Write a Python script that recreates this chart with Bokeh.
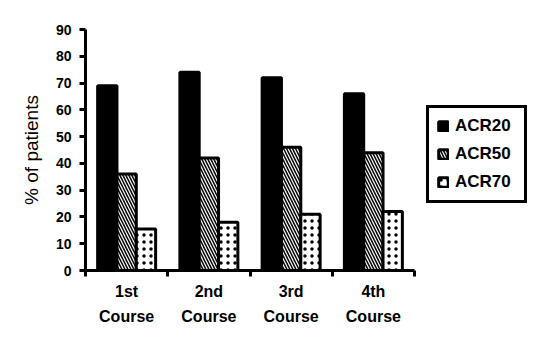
from bokeh.plotting import figure
from bokeh.models import Range1d, FixedTicker, Legend, LegendItem, ColumnDataSource
from bokeh.embed import file_html
from bokeh.resources import INLINE

categories = ["1st\nCourse", "2nd\nCourse", "3rd\nCourse", "4th\nCourse"]
series_names = ["ACR20", "ACR50", "ACR70"]
acr20 = [69, 74, 72, 66]
acr50 = [36, 42, 46, 44]
acr70 = [15.5, 18, 21, 22]
y_ticks = [0, 10, 20, 30, 40, 50, 60, 70, 80, 90]

FONT = "Liberation Sans"
bar_w = 0.235
n = len(categories)

W, H = 544, 350
FL, FT, FH = 85, 29, 241
AXIS_W = 329                 # pixel length of the category axis
FW = W - FL - 4              # frame extends right to hold the legend
x_end = n * FW / AXIS_W

p = figure(width=W, height=H, output_backend="svg", toolbar_location=None,
           x_range=Range1d(0, x_end), y_range=Range1d(0, 90),
           min_border_left=FL, min_border_top=FT, min_border_right=W - FL - FW,
           min_border_bottom=H - FT - FH)
p.outline_line_color = None
p.xgrid.visible = False
p.ygrid.visible = False
p.background_fill_color = "white"
p.border_fill_color = "white"

centers = [i + 0.5 for i in range(n)]
styles = [
    dict(fill_color="black"),
    dict(fill_color="white", hatch_pattern="left_diagonal_line", hatch_color="black", hatch_scale=6, hatch_weight=1.5),
    dict(fill_color="white", hatch_pattern="dot", hatch_color="black", hatch_scale=7, hatch_weight=1),
]
items = []
for k, (name, vals) in enumerate(zip(series_names, [acr20, acr50, acr70])):
    src = ColumnDataSource(dict(x=[c + (k - 1) * bar_w for c in centers], top=vals))
    r = p.vbar(x="x", top="top", width=bar_w, source=src, line_color="black", line_width=3,
               **styles[k])
    items.append(LegendItem(label=name, renderers=[r]))

legend = Legend(items=items, location=(AXIS_W + 12, 67), border_line_color="black",
                border_line_width=3, border_line_alpha=1,
                label_text_font=FONT, label_text_font_style="bold", label_text_font_size="17px",
                label_text_color="black",
                glyph_width=12, glyph_height=12, label_height=18, label_width=61, spacing=8,
                padding=8, label_standoff=6, margin=0, background_fill_alpha=1)
p.add_layout(legend, "center")

# y axis
ya = p.yaxis[0]
ya.ticker = FixedTicker(ticks=y_ticks)
ya.axis_label = "% of patients"
ya.axis_label_text_font = FONT
ya.axis_label_text_font_style = "normal"
ya.axis_label_text_font_size = "19px"
ya.axis_label_text_color = "black"
ya.axis_label_standoff = 11
ya.major_label_text_font = FONT
ya.major_label_text_font_style = "bold"
ya.major_label_text_font_size = "14px"
ya.major_label_text_color = "black"
ya.major_label_standoff = 8
ya.major_tick_in = 0
ya.major_tick_out = 6
ya.major_tick_line_width = 3
ya.minor_tick_line_color = None
ya.axis_line_width = 3

# x axis: labels at category centres, ticks at category boundaries
xa = p.xaxis[0]
xa.bounds = (0, n)
xa.ticker = FixedTicker(ticks=centers, minor_ticks=list(range(n + 1)))
xa.major_label_overrides = {c: lab for c, lab in zip(centers, categories)}
xa.major_label_text_font = FONT
xa.major_label_text_font_style = "bold"
xa.major_label_text_font_size = "16px"
xa.major_label_text_color = "black"
xa.major_label_text_line_height = 1.5
xa.major_label_standoff = 6
xa.major_tick_line_color = None
xa.major_tick_out = 0
xa.minor_tick_in = 0
xa.minor_tick_out = 6
xa.minor_tick_line_width = 3
xa.axis_line_width = 3

open("out.html", "w").write(file_html(p, INLINE))
